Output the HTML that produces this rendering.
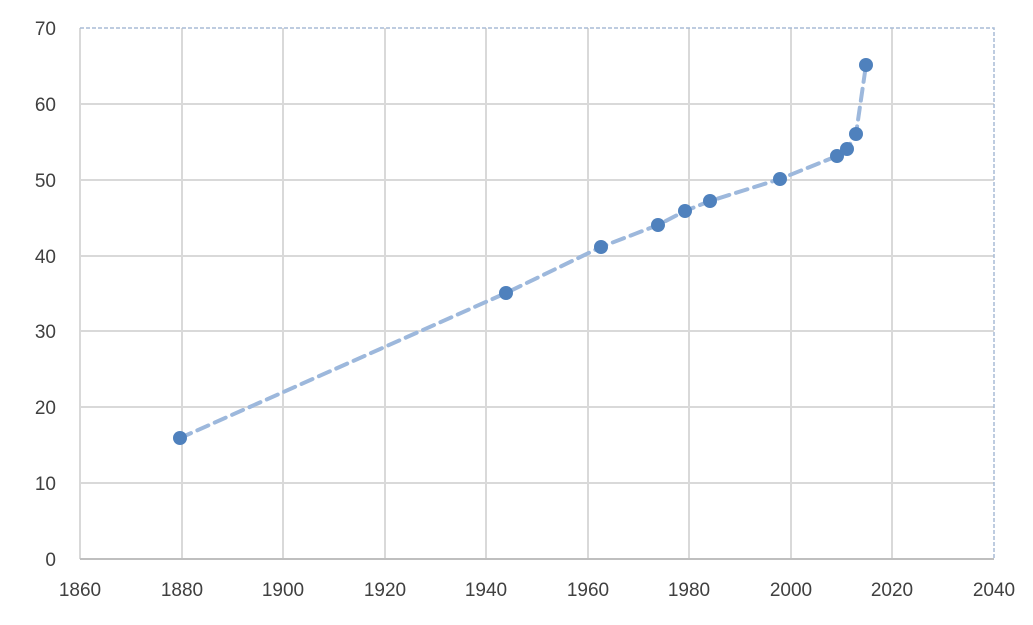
<!DOCTYPE html>
<html><head><style>body{margin:0;background:#fff}svg{display:block}</style></head><body>
<svg width="1033" height="625" xmlns="http://www.w3.org/2000/svg" font-family="Liberation Sans, sans-serif">
<g stroke="#d9d9d9" stroke-width="2">
<line x1="80" y1="104" x2="994" y2="104"/><line x1="80" y1="180" x2="994" y2="180"/>
<line x1="80" y1="256" x2="994" y2="256"/><line x1="80" y1="331" x2="994" y2="331"/>
<line x1="80" y1="407" x2="994" y2="407"/><line x1="80" y1="483" x2="994" y2="483"/>
<line x1="80" y1="28" x2="80" y2="559"/><line x1="182" y1="28" x2="182" y2="559"/>
<line x1="283" y1="28" x2="283" y2="559"/><line x1="385" y1="28" x2="385" y2="559"/>
<line x1="486" y1="28" x2="486" y2="559"/><line x1="588" y1="28" x2="588" y2="559"/>
<line x1="689" y1="28" x2="689" y2="559"/><line x1="791" y1="28" x2="791" y2="559"/>
<line x1="892" y1="28" x2="892" y2="559"/>
</g>
<path d="M80 28H994V559" fill="none" stroke="#a8bcd6" stroke-width="1.5" stroke-dasharray="4 2"/>
<line x1="80" y1="559" x2="994" y2="559" stroke="#bfbfbf" stroke-width="2"/>
<polyline points="180,438 506,293 601,247 658,225 685,211 710,201 780,179 837,156 847,149 856,134 866,65" fill="none" stroke="#9db8dc" stroke-width="4" stroke-dasharray="12 7" stroke-linecap="round"/>
<g fill="#4f81bd">
<circle cx="180" cy="438" r="7"/><circle cx="506" cy="293" r="7"/><circle cx="601" cy="247" r="7"/>
<circle cx="658" cy="225" r="7"/><circle cx="685" cy="211" r="7"/><circle cx="710" cy="201" r="7"/>
<circle cx="780" cy="179" r="7"/><circle cx="837" cy="156" r="7"/><circle cx="847" cy="149" r="7"/>
<circle cx="856" cy="134" r="7"/><circle cx="866" cy="65" r="7"/>
</g>
<g font-size="19" fill="#404040" text-anchor="end">
<text x="56" y="35">70</text><text x="56" y="111">60</text><text x="56" y="187">50</text>
<text x="56" y="263">40</text><text x="56" y="338">30</text><text x="56" y="414">20</text>
<text x="56" y="490">10</text><text x="56" y="566">0</text>
</g>
<g font-size="19" fill="#404040" text-anchor="middle">
<text x="80" y="596">1860</text><text x="182" y="596">1880</text><text x="283" y="596">1900</text>
<text x="385" y="596">1920</text><text x="486" y="596">1940</text><text x="588" y="596">1960</text>
<text x="689" y="596">1980</text><text x="791" y="596">2000</text><text x="892" y="596">2020</text>
<text x="994" y="596">2040</text>
</g>
</svg>
</body></html>
